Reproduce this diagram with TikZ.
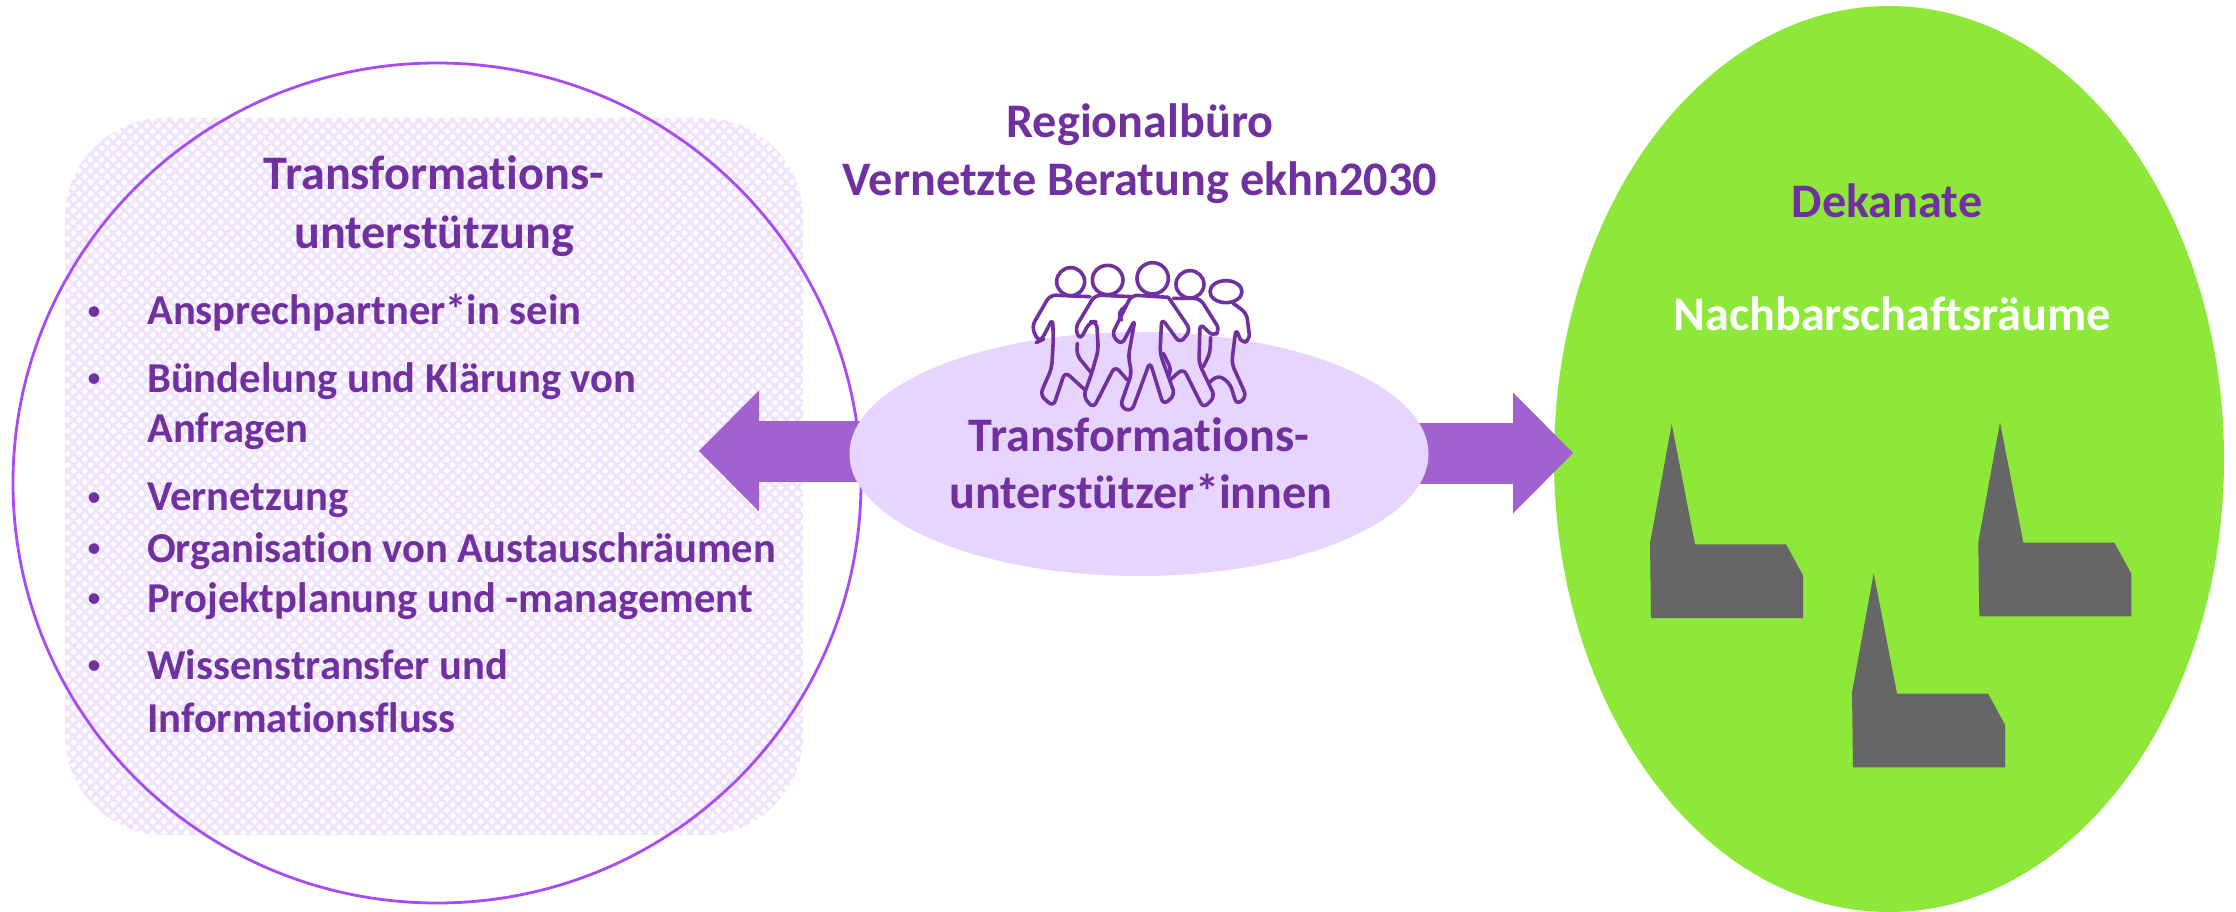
\documentclass[tikz,border=0pt]{standalone}
\usepackage{fontspec}
\setmainfont[Ligatures=NoCommon]{Carlito}
\usetikzlibrary{positioning,arrows.meta,shapes.geometric,patterns.meta}

\definecolor{txtpurple}{HTML}{7030A0}
\definecolor{ringpurple}{HTML}{A94BF5}
\definecolor{hubpurple}{HTML}{E8D5FF}
\definecolor{arrowpurple}{HTML}{A161CE}
\definecolor{hatchpurple}{HTML}{EFE3FF}
\definecolor{regiongreen}{HTML}{8EE83A}
\definecolor{churchgrey}{HTML}{666666}

\tikzset{
  txt/.style={anchor=base,text=txtpurple,font=\bfseries\fontsize{48.2}{56}\selectfont,inner sep=0pt},
  item/.style={txt,anchor=base west,font=\bfseries\fontsize{42.6}{50}\selectfont},
  dot/.style={txt,font=\fontsize{30}{40}\selectfont},
  blockarrow/.style={draw=arrowpurple,line width=61pt,
    -{Triangle[length=60pt,width=121pt,line width=0pt,fill=arrowpurple]}},
  person/.style={draw=txtpurple,line width=3.6pt,line join=round,line cap=round},
  church/.pic={
    \fill[churchgrey] (-21.7,119.3) -- (0,0) -- (23.3,120.3) -- (114.3,120.3)
      -- (131.3,151.3) -- (131.3,194) -- (-20.7,194) -- cycle;
  }
}

\begin{document}
\begin{tikzpicture}[x=1pt,y=-1pt]

  \useasboundingbox (0,0) rectangle (2236,912);

  % left block
  \node[rectangle,rounded corners=100pt,minimum width=738pt,minimum height=717pt,
        pattern={Lines[angle=45,distance=8pt,line width=3pt]},pattern color=hatchpurple,
        postaction={pattern={Lines[angle=-45,distance=8pt,line width=3pt]},pattern color=hatchpurple}]
        (hatch) at (434,476.5) {};
  \node[ellipse,draw=ringpurple,line width=2.8pt,minimum width=848pt,minimum height=840pt,inner sep=0pt]
        (ring) at (437,483) {};

  % right block
  \node[ellipse,fill=regiongreen,minimum width=670pt,minimum height=906pt,inner sep=0pt]
        (region) at (1889,459) {};

  \pic (c1) at (1671.7,424) {church};
  \pic (c2) at (2000,422.3) {church};
  \pic (c3) at (1873.7,573.3) {church};

  % arrows, the hub lies on top
  \coordinate (armleft) at (1000,451);
  \coordinate (armright) at (1250,453);
  \coordinate (tipleft) at (699,451);
  \coordinate (tipright) at (1573,453);
  \path[blockarrow] (armleft) edge (tipleft);
  \path[blockarrow] (armright) edge (tipright);

  \node[ellipse,fill=hubpurple,minimum width=579pt,minimum height=244pt,inner sep=0pt]
        (hub) at (1139,454) {};

  % people
  \begin{scope}[shift={(1000,240)},scale=0.3333]
    \draw[person] (212,125) ellipse (42 and 42);
    \draw[person] (323,120) ellipse (46 and 44);
    \draw[person] (458,115) ellipse (47 and 47);
    \draw[person] (570,133) ellipse (42 and 41);
    \draw[person] (678,155) ellipse (48 and 33);
    \draw[person,rounded corners=6pt] (270,170) -- (150,165) -- (95,260) -- (115,305) -- (125,300) -- (158,235)
      -- (160,300) -- (155,385) -- (120,465) -- (160,500) -- (195,395) -- (255,450);
    \draw[person,rounded corners=6pt] (395,170) -- (285,165) -- (225,265) -- (240,300) -- (270,245) -- (290,245)
      -- (295,330) -- (275,400) -- (250,470) -- (280,505) -- (345,378) -- (382,420);
    \draw[person,rounded corners=6pt] (232,310) -- (230,345) -- (275,400);
    \draw[person,rounded corners=6pt] (505,172) -- (395,165) -- (335,285) -- (365,315) -- (405,238)
      -- (385,350) -- (395,400) -- (360,500) -- (395,515) -- (450,365) -- (490,495) -- (525,465)
      -- (480,340) -- (485,235) -- (540,310) -- (572,270) -- (505,172);
    \draw[person,rounded corners=6pt] (520,175) -- (600,175) -- (660,270) -- (640,290) -- (600,250)
      -- (597,370) -- (645,470) -- (610,505) -- (550,385) -- (510,420);
    \draw[person,rounded corners=6pt] (632,292) -- (630,340) -- (610,380);
    \draw[person,rounded corners=6pt] (700,190) -- (740,220) -- (750,300) -- (725,310) -- (708,265)
      -- (695,370) -- (740,470) -- (710,495) -- (690,430) -- (655,405) -- (625,430);
    \draw[person,rounded corners=6pt] (490,340) -- (515,390) -- (505,410);
    \draw[person,rounded corners=6pt] (380,195) -- (352,222) -- (365,240);
  \end{scope}

  % texts
  \node[txt] (hubtop) at (1139,451) {Transformations-};
  \node[txt] (hubbot) at (1141,508) {unterstützer*innen};

  \node[txt] (office) at (1140,138) {Regionalbüro};
  \node[txt] (officeb) at (1140,196) {Vernetzte Beratung ekhn2030};

  \node[txt] (title) at (434,190) {Transformations-};
  \node[txt] (titleb) at (434,248) {unterstützung};

  \node[txt] (deanery) at (1887,218) {Dekanate};
  \node[txt,text=white] (nbr) at (1892,330) {Nachbarschaftsräume};

  \node[dot] (b1) at (94,320) {•};
  \node[dot] (b2) at (94,387) {•};
  \node[dot] (b3) at (94,506) {•};
  \node[dot] (b4) at (94,557) {•};
  \node[dot] (b5) at (94,607) {•};
  \node[dot] (b6) at (94,674) {•};

  \node[item] (i1) at (147,324) {Ansprechpartner*in sein};
  \node[item] (i2) at (147,392) {Bündelung und Klärung von};
  \node[item] (i2b) at (147,442) {Anfragen};
  \node[item] (i3) at (147,510) {Vernetzung};
  \node[item] (i4) at (147,562) {Organisation von Austauschräumen};
  \node[item] (i5) at (147,612) {Projektplanung und -management};
  \node[item] (i6) at (147,679) {Wissenstransfer und};
  \node[item] (i6b) at (147,732) {Informationsfluss};

\end{tikzpicture}
\end{document}
